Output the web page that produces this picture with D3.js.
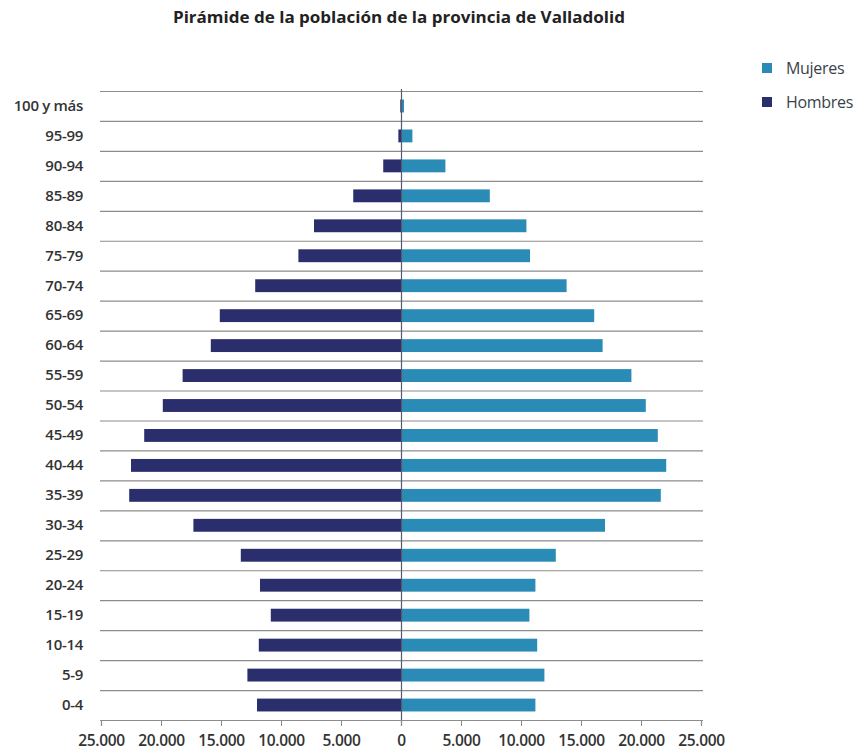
<!DOCTYPE html>
<html>
<head>
<meta charset="utf-8">
<script src="https://cdn.jsdelivr.net/npm/d3@7"></script>
<style>
  html, body { margin: 0; padding: 0; background: #ffffff; }
  svg { display: block; }
</style>
</head>
<body>
<svg id="chart" width="863" height="755"></svg>
<script>
// ---- Data ----
const categories = ["100 y más","95-99","90-94","85-89","80-84","75-79","70-74","65-69","60-64","55-59","50-54","45-49","40-44","35-39","30-34","25-29","20-24","15-19","10-14","5-9","0-4"];
const hombres = [60, 220, 1480, 3980, 7250, 8550, 12150, 15100, 15850, 18200, 19850, 21400, 22500, 22650, 17300, 13350, 11750, 10850, 11850, 12800, 12000];
const mujeres = [250, 950, 3700, 7400, 10450, 10750, 13800, 16100, 16800, 19200, 20400, 21400, 22100, 21650, 17000, 12900, 11200, 10700, 11350, 11950, 11200];
const xTicks = [-25000, -20000, -15000, -10000, -5000, 0, 5000, 10000, 15000, 20000, 25000];
const seriesNames = ["Mujeres", "Hombres"];
const title = "Pirámide de la población de la provincia de Valladolid";

(function () {
const colMen = "#2b2e6c";
const colWomen = "#2a8bb6";
const textCol = "#333333";

const svg = d3.select("#chart");
const mLeft = 101, mRight = 701, mTop = 91, mBottom = 720;

const x = d3.scaleLinear().domain([-25000, 25000]).range([mLeft, mRight]);
const y = d3.scaleBand().domain(categories).range([mTop, mBottom]).paddingInner(0.57).paddingOuter(0.285);
const yStep = d3.scaleBand().domain(categories).range([mTop, mBottom]).padding(0);

// Title
svg.append("text")
  .attr("x", 399).attr("y", 23)
  .attr("text-anchor", "middle")
  .attr("font-family", "Open Sans, sans-serif")
  .attr("font-weight", "bold")
  .attr("font-size", 16)
  .attr("fill", "#222")
  .attr("textLength", 452)
  .attr("lengthAdjust", "spacingAndGlyphs")
  .text(title);

// Horizontal grid lines (band boundaries)
const bounds = categories.map(c => yStep(c)).concat([mBottom]);
svg.append("g").selectAll("line").data(bounds).join("line")
  .attr("x1", x(-25000) - 1).attr("x2", x(25000) + 2)
  .attr("y1", d => d + 0.5).attr("y2", d => d + 0.5)
  .attr("stroke", "#8c8c8c").attr("stroke-width", 1.2);

// Bars
const gBars = svg.append("g");
gBars.selectAll("rect.m").data(categories).join("rect")
  .attr("class", "m")
  .attr("x", (d, i) => x(-hombres[i]))
  .attr("width", (d, i) => x(0) - x(-hombres[i]))
  .attr("y", d => y(d))
  .attr("height", y.bandwidth())
  .attr("fill", colMen);
gBars.selectAll("rect.w").data(categories).join("rect")
  .attr("class", "w")
  .attr("x", x(0))
  .attr("width", (d, i) => x(mujeres[i]) - x(0))
  .attr("y", d => y(d))
  .attr("height", y.bandwidth())
  .attr("fill", colWomen);

// Zero line
svg.append("line")
  .attr("x1", x(0) + 0.5).attr("x2", x(0) + 0.5)
  .attr("y1", mTop - 2).attr("y2", mBottom + 6)
  .attr("stroke", "#555a70").attr("stroke-width", 1.2);

// X axis
const xAxis = d3.axisBottom(x).tickValues(xTicks)
  .tickSize(6).tickPadding(9)
  .tickFormat(d => d3.format(",")(Math.abs(d)).replace(/,/g, "."));
const gx = svg.append("g").attr("transform", `translate(0,${mBottom})`).call(xAxis);
gx.select(".domain").attr("stroke", "#8c8c8c").attr("stroke-width", 1.2);
gx.selectAll(".tick line").attr("stroke", "#8c8c8c");
gx.selectAll(".tick text")
  .attr("font-family", "Open Sans, sans-serif")
  .attr("font-size", 15.5).attr("font-weight", 600)
  .attr("fill", textCol)
  .attr("letter-spacing", "-0.3");

// Y axis labels
const yAxis = d3.axisLeft(yStep).tickSize(0).tickPadding(0);
const gy = svg.append("g").attr("transform", "translate(83,0)").call(yAxis);
gy.select(".domain").remove();
gy.selectAll(".tick text")
  .attr("font-family", "Open Sans, sans-serif")
  .attr("font-size", 15).attr("font-weight", 600)
  .attr("fill", textCol)
  .attr("letter-spacing", "-0.3");

// Legend
const legend = svg.append("g").attr("transform", "translate(762,63)");
const legColors = [colWomen, colMen];
seriesNames.forEach((name, i) => {
  const g = legend.append("g").attr("transform", `translate(0,${i * 34})`);
  g.append("rect").attr("width", 10).attr("height", 10).attr("fill", legColors[i]);
  g.append("text").attr("x", 24).attr("y", 10.5)
    .attr("font-family", "Open Sans, sans-serif")
    .attr("font-size", 16).attr("fill", "#3a3f4a")
    .attr("letter-spacing", "-0.3")
    .text(name);
});
})();
</script>
</body>
</html>
